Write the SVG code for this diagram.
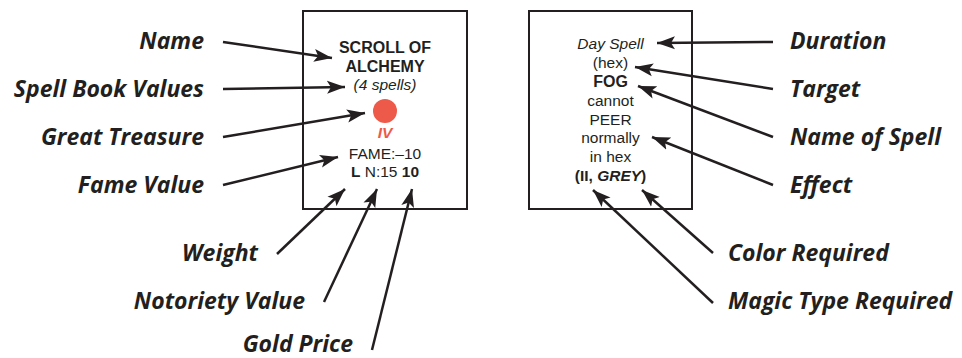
<svg xmlns="http://www.w3.org/2000/svg" width="962" height="358" viewBox="0 0 962 358">
<defs>
<style>
.box{fill:#fff;stroke:#231f20;stroke-width:2}
.lbl{font-family:"Open Sans","Noto Sans",sans-serif;font-weight:700;font-style:italic;font-size:23px;fill:#231f20}
.c{font-family:"Liberation Sans",Arial,sans-serif;font-size:15.5px;fill:#231f20;text-anchor:middle}
.b{font-weight:700}
.bb{font-weight:700;font-size:16px}
.i{font-style:italic}
.red{fill:#ee5a4a}
.ln{stroke:#231f20;stroke-width:2.5;fill:none;marker-end:url(#ah)}
</style>
<marker id="ah" markerUnits="userSpaceOnUse" viewBox="-18 -7 20 14" refX="0" refY="0" markerWidth="20" markerHeight="14" orient="auto">
<path d="M0,0 L-18,-6.5 L-14,0 L-18,6.5 Z" fill="#231f20"/>
</marker>
</defs>
<rect width="962" height="358" fill="#fff"/>
<g id="card-left">
<rect class="box" x="303" y="11" width="164" height="198"/>
<text class="c bb" x="385" y="53">SCROLL OF</text>
<text class="c bb" x="385" y="72">ALCHEMY</text>
<text class="c i" x="385" y="89.5">(4 spells)</text>
<circle class="red" cx="385" cy="111" r="12"/>
<text class="c b i red" x="385" y="138">IV</text>
<text class="c" x="385" y="159">FAME:–10</text>
<text class="c" x="385" y="177"><tspan class="b">L</tspan> N:15 <tspan class="b">10</tspan></text>
</g>
<g id="card-right">
<rect class="box" x="529" y="11" width="163" height="198"/>
<text class="c i" x="610.5" y="49">Day Spell</text>
<text class="c" x="610.5" y="68">(hex)</text>
<text class="c bb" x="610.5" y="87">FOG</text>
<text class="c" x="610.5" y="106">cannot</text>
<text class="c" x="610.5" y="124.5">PEER</text>
<text class="c" x="610.5" y="143">normally</text>
<text class="c" x="610.5" y="162">in hex</text>
<text class="c b" x="610.5" y="181">(II, <tspan class="i">GREY</tspan>)</text>
</g>
<g id="labels-left">
<text id="name" class="lbl" x="204" y="49" text-anchor="end">Name</text>
<text id="spellbook" class="lbl" x="204" y="97" text-anchor="end">Spell Book Values</text>
<text id="treasure" class="lbl" x="204" y="145" text-anchor="end">Great Treasure</text>
<text id="fame" class="lbl" x="204" y="193" text-anchor="end">Fame Value</text>
<text id="weight" class="lbl" x="258" y="261" text-anchor="end">Weight</text>
<text id="notoriety" class="lbl" x="305" y="309" text-anchor="end">Notoriety Value</text>
<text id="gold" class="lbl" x="353" y="352" text-anchor="end">Gold Price</text>
</g>
<g id="labels-right">
<text id="duration" class="lbl" x="790" y="49">Duration</text>
<text id="target" class="lbl" x="790" y="97">Target</text>
<text id="spellname" class="lbl" x="790" y="145">Name of Spell</text>
<text id="effect" class="lbl" x="790" y="193">Effect</text>
<text id="color" class="lbl" x="728" y="261">Color Required</text>
<text id="magic" class="lbl" x="728" y="309">Magic Type Required</text>
</g>
<g id="connectors">
<line class="ln" x1="223" y1="42" x2="332" y2="58"/>
<line class="ln" x1="223" y1="89" x2="345" y2="87"/>
<line class="ln" x1="223" y1="137" x2="365" y2="113"/>
<line class="ln" x1="223" y1="185" x2="338" y2="157"/>
<line class="ln" x1="277" y1="254" x2="345" y2="189"/>
<line class="ln" x1="324" y1="302" x2="377" y2="189"/>
<line class="ln" x1="372" y1="350" x2="412" y2="189"/>
<line class="ln" x1="773" y1="42" x2="657" y2="43"/>
<line class="ln" x1="773" y1="89" x2="635" y2="67"/>
<line class="ln" x1="773" y1="137" x2="638" y2="86"/>
<line class="ln" x1="773" y1="185" x2="652" y2="137"/>
<line class="ln" x1="713" y1="253" x2="642" y2="190"/>
<line class="ln" x1="713" y1="303" x2="593" y2="190"/>
</g>
</svg>
